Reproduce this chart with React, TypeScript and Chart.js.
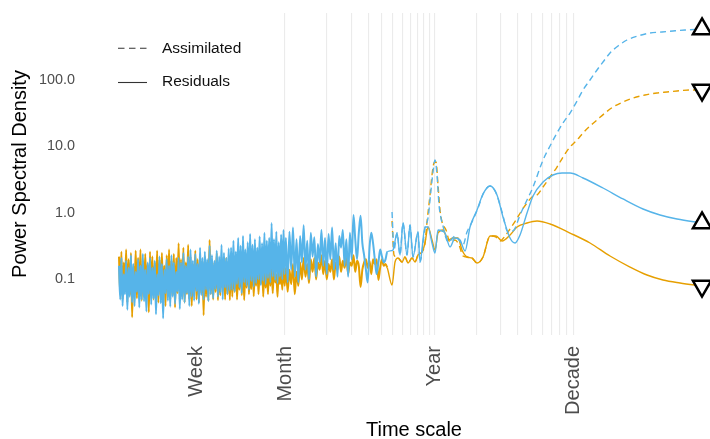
import React, { useEffect, useRef } from "react";
import { Chart, registerables } from "chart.js";

Chart.register(...registerables);

const FONT = "'Liberation Sans', Arial, Helvetica, sans-serif";
const BLUE = "#56B4E9";
const ORANGE = "#E69F00";

// ---- Data (periods in days, power spectral density values) ----
const noisyPeriods = [
  1.93, 1.969, 2.008, 2.048, 2.089, 2.131, 2.173, 2.217, 2.261, 2.307,
  2.353, 2.4, 2.448, 2.497, 2.547, 2.598, 2.65, 2.703, 2.757, 2.812,
  2.868, 2.925, 2.984, 3.043, 3.104, 3.166, 3.23, 3.295, 3.36, 3.427,
  3.496, 3.566, 3.637, 3.71, 3.784, 3.86, 3.937, 4.016, 4.096, 4.178,
  4.262, 4.347, 4.434, 4.522, 4.613, 4.705, 4.799, 4.895, 4.993, 5.093,
  5.195, 5.299, 5.405, 5.513, 5.623, 5.736, 5.851, 5.968, 6.087, 6.208,
  6.332, 6.459, 6.588, 6.72, 6.854, 6.991, 7.131, 7.274, 7.419, 7.568,
  7.719, 7.873, 8.031, 8.191, 8.355, 8.522, 8.693, 8.867, 9.044, 9.225,
  9.41, 9.598, 9.79, 9.985, 10.19, 10.39, 10.6, 10.81, 11.03, 11.25,
  11.47, 11.7, 11.94, 12.17, 12.42, 12.67, 12.92, 13.18, 13.44, 13.71,
  13.98, 14.26, 14.55, 14.84, 15.14, 15.44, 15.75, 16.06, 16.38, 16.71,
  17.04, 17.38, 17.73, 18.09, 18.45, 18.82, 19.2, 19.58, 19.97, 20.37,
  20.78, 21.19, 21.62, 22.05, 22.49, 22.94, 23.4, 23.87, 24.35, 24.83,
  25.33, 25.83, 26.35, 26.88, 27.42, 27.97, 28.53, 29.1, 29.68, 30.27,
  30.87,
  31.8, 32.75, 33.73, 34.74, 35.79, 36.86, 37.97, 39.11, 40.28, 41.49,
  42.73, 44.01, 45.34, 46.7, 48.1, 49.54, 51.03, 52.56, 54.13, 55.75,
  57.43, 59.15, 60.92, 62.75, 64.63, 66.57, 68.57, 70.63, 72.75, 74.93,
  77.18, 79.49, 81.88, 84.33, 86.86, 89.47, 92.15, 94.92, 97.77, 100.7,
  103.7, 106.8, 110.0, 113.3, 116.7, 120.2, 123.9, 127.6, 131.4, 135.3,
  139.4, 143.6, 147.9, 152.3, 156.9, 161.6, 166.4,
];

const blueResidualNoisy = [
  0.16, 0.05, 0.21, 0.04, 0.12, 0.06, 0.19, 0.035, 0.15, 0.055,
  0.23, 0.045, 0.17, 0.04, 0.13, 0.065, 0.2, 0.038, 0.16, 0.05,
  0.24, 0.047, 0.14, 0.033, 0.18, 0.06, 0.21, 0.042, 0.15, 0.052,
  0.19, 0.03, 0.12, 0.058, 0.22, 0.044, 0.17, 0.026, 0.14, 0.062,
  0.2, 0.048, 0.16, 0.039, 0.23, 0.055, 0.18, 0.043, 0.13, 0.066,
  0.21, 0.036,
  0.18, 0.05, 0.25, 0.045, 0.16, 0.062, 0.22, 0.04, 0.28, 0.055,
  0.19, 0.048, 0.24, 0.067, 0.17, 0.043, 0.3, 0.058, 0.21, 0.05,
  0.26, 0.07, 0.2, 0.047, 0.32, 0.06, 0.23, 0.052, 0.19, 0.072,
  0.27, 0.055, 0.22, 0.064, 0.33, 0.05, 0.25, 0.075, 0.21, 0.06,
  0.29, 0.068,
  0.3, 0.07, 0.38, 0.065, 0.26, 0.085, 0.42, 0.075, 0.32, 0.062,
  0.45, 0.09, 0.28, 0.08, 0.36, 0.07, 0.48, 0.095, 0.33, 0.078,
  0.4, 0.088, 0.3, 0.1, 0.44, 0.082, 0.35, 0.095, 0.5, 0.085,
  0.38, 0.105, 0.42, 0.09, 0.7, 0.11, 0.4, 0.098, 0.52, 0.088,
  0.36, 0.11, 0.47, 0.1, 0.55, 0.12, 0.42,
  0.09, 0.52, 0.14, 0.6, 0.11, 0.4, 0.09, 0.45, 0.18, 0.65,
  0.14, 0.38, 0.1, 0.5, 0.22, 0.43, 0.11, 0.34, 0.18, 0.55,
  0.16, 0.42, 0.12, 0.48, 0.2, 0.6, 0.14, 0.35, 0.11, 0.45,
  0.3, 0.55, 0.16, 0.4, 0.11, 0.5, 0.2, 0.93, 0.4, 0.2,
  0.5, 0.9, 0.35, 0.23, 0.14, 0.09, 0.3, 0.5, 0.35, 0.2,
  0.12, 0.18, 0.28, 0.22, 0.18, 0.2, 0.26,
];

const orangeResidualNoisy = [
  0.22, 0.06, 0.26, 0.05, 0.18, 0.07, 0.28, 0.045, 0.2, 0.058,
  0.25, 0.027, 0.16, 0.065, 0.27, 0.052, 0.21, 0.06, 0.28, 0.048,
  0.19, 0.055, 0.24, 0.068, 0.17, 0.032, 0.26, 0.057, 0.22, 0.05,
  0.18, 0.064, 0.27, 0.045, 0.2, 0.06, 0.25, 0.054, 0.16, 0.04,
  0.23, 0.066, 0.28, 0.05, 0.19, 0.058, 0.24, 0.038, 0.21, 0.062,
  0.35, 0.05,
  0.2, 0.055, 0.3, 0.045, 0.18, 0.06, 0.33, 0.05, 0.22, 0.04,
  0.17, 0.058, 0.27, 0.05, 0.2, 0.045, 0.24, 0.062, 0.19, 0.029,
  0.22, 0.055, 0.16, 0.048, 0.39, 0.06, 0.2, 0.05, 0.18, 0.065,
  0.25, 0.049, 0.15, 0.058, 0.22, 0.068, 0.17, 0.05, 0.21, 0.06,
  0.19, 0.049,
  0.23, 0.055, 0.16, 0.065, 0.21, 0.05, 0.14, 0.07, 0.19, 0.058,
  0.22, 0.049, 0.15, 0.075, 0.2, 0.06, 0.13, 0.072, 0.21, 0.056,
  0.16, 0.08, 0.18, 0.06, 0.14, 0.085, 0.2, 0.055, 0.16, 0.075,
  0.13, 0.06, 0.19, 0.08, 0.15, 0.062, 0.17, 0.09, 0.12, 0.055,
  0.16, 0.085, 0.14, 0.07, 0.18, 0.08, 0.15,
  0.065, 0.14, 0.085, 0.17, 0.06, 0.13, 0.08, 0.18, 0.1, 0.21,
  0.11, 0.17, 0.088, 0.2, 0.13, 0.21, 0.1, 0.18, 0.14, 0.23,
  0.12, 0.19, 0.1, 0.17, 0.13, 0.2, 0.1, 0.18, 0.14, 0.22,
  0.13, 0.19, 0.15, 0.21, 0.12, 0.18, 0.16, 0.23, 0.13, 0.19,
  0.16, 0.077, 0.14, 0.18, 0.2, 0.15, 0.19, 0.12, 0.2, 0.17,
  0.2, 0.098, 0.15, 0.2, 0.16, 0.17, 0.15,
];

const blueResidualSmoothPeriods = [
  183.0, 195.7, 205.7, 216.2, 231.0, 242.8, 255.2, 277.3, 286.7, 311.5,
  327.4, 349.9, 367.9, 386.6, 413.2, 434.3, 472.0, 512.9, 557.2, 605.5,
  658.0, 739.3, 816.6, 917.5, 1030, 1138, 1279, 1390, 1510, 1696,
  1874, 2213, 2612, 3034, 3465, 4300, 5995, 8359, 11650, 15460, 20500, 31060,
];
const blueResidualSmooth = [
  0.276, 0.497, 0.2325, 0.703, 0.2325, 0.656, 0.217, 0.515, 0.1825, 0.612,
  0.612, 0.352, 0.249, 0.552, 0.533, 0.497, 0.307, 0.418, 0.39, 0.267,
  0.612, 1.102, 1.915, 2.526, 1.85, 0.865, 0.418, 0.352, 0.464, 0.993,
  1.788, 2.9, 3.694, 3.959, 3.959, 3.331, 2.357, 1.612, 1.14, 0.927, 0.807, 0.703,
];

const orangeResidualSmoothPeriods = [
  180.1, 189.3, 199.0, 212.6, 223.5, 234.9, 251.0, 263.9, 277.3, 296.4,
  311.5, 327.4, 349.9, 367.9, 386.6, 420.1, 456.5, 496.0, 538.9, 576.0,
  625.8, 680.1, 739.3, 816.6, 917.5, 1014, 1120, 1279, 1437, 1696,
  2003, 2486, 3465, 4831, 6734, 9389, 12450, 16240, 21550, 31060,
];
const orangeResidualSmooth = [
  0.0824, 0.1825, 0.2096, 0.1825, 0.217, 0.176, 0.2096, 0.1825, 0.2325, 0.258,
  0.352, 0.612, 0.39, 0.276, 0.497, 0.552, 0.39, 0.418, 0.418, 0.276,
  0.217, 0.2096, 0.176, 0.217, 0.448, 0.448, 0.377, 0.464, 0.612, 0.703,
  0.753, 0.679, 0.497, 0.352, 0.2246, 0.1535, 0.1164, 0.098, 0.0883, 0.0796,
];

const blueAssimilatedPeriods = [
  180.1, 186.1, 195.7, 205.7, 216.2, 231.0, 242.8, 255.2, 277.3, 286.7,
  311.5, 327.4, 344.2, 355.8, 367.9, 380.3, 393.1, 406.4, 420.1, 441.6,
  456.5, 479.9, 512.9, 548.0, 585.7, 625.8, 680.1, 751.6, 830.3, 917.5,
  1014, 1120, 1237, 1366, 1510, 1696, 1874, 2213, 2486, 2792,
  3085, 3465, 3893, 4300, 4831, 5426, 5995, 6734, 7691, 8930,
  10720, 13090, 15970, 19180, 23410, 31060,
];
const blueAssimilated = [
  1.028, 0.276, 0.497, 0.2325, 0.703, 0.2325, 0.656, 0.217, 0.515, 0.1825,
  0.591, 0.835, 2.199, 4.099, 6.204, 3.694, 1.31, 0.835, 0.634, 0.418,
  0.364, 0.39, 0.448, 0.39, 0.329, 0.515, 0.728, 1.181, 2.053, 2.526,
  1.983, 1.028, 0.515, 0.552, 0.927, 1.556, 2.44, 6.204, 10.07, 15.79,
  22.3, 31.51, 47.72, 69.81, 98.6, 139.4, 183.8, 250.9, 319.6, 393.2,
  451.6, 500.9, 518.5, 536.7, 555.5, 575.3,
];

const orangeAssimilatedPeriods = [
  180.1, 186.1, 199.0, 212.6, 223.5, 234.9, 251.0, 263.9, 277.3, 296.4,
  311.5, 322.0, 338.5, 349.9, 361.7, 374.0, 386.6, 399.6, 413.2, 441.6,
  472.0, 512.9, 548.0, 585.7, 625.8, 680.1, 739.3, 816.6, 917.5, 1014,
  1083, 1177, 1279, 1413, 1561, 1696, 1843, 2003, 2213, 2486,
  2792, 3085, 3465, 3893, 4300, 4831, 5426, 6197, 7078, 8359,
  9867, 12040, 14700, 17360, 20500, 25440, 31060,
];
const orangeAssimilated = [
  0.753, 0.2325, 0.2096, 0.1825, 0.217, 0.176, 0.2096, 0.1825, 0.2325, 0.258,
  0.352, 0.728, 1.85, 3.694, 5.594, 5.791, 2.615, 1.102, 0.728, 0.552,
  0.364, 0.39, 0.329, 0.2246, 0.217, 0.2096, 0.176, 0.217, 0.448, 0.433,
  0.377, 0.448, 0.571, 0.78, 1.102, 1.403, 1.727, 1.85, 2.44, 3.447,
  4.871, 6.883, 9.727, 12.39, 15.79, 20.11, 24.74, 31.51, 38.79, 46.1,
  52.93, 58.73, 62.93, 65.14, 67.44, 69.81, 69.81,
];

// ---- Axis ticks ----
const xTickValues = [
  7, 30.4375, 60.875, 91.3125, 121.75, 152.1875, 182.625, 213.0625, 243.5,
  273.9375, 304.375, 334.8125, 365.25, 730.5, 1095.75, 1461, 1826.25,
  2191.5, 2556.75, 2922, 3287.25, 3652.5,
];
const xTickLabels = [
  "Week", "Month", "", "", "", "", "", "", "", "", "", "", "Year",
  "", "", "", "", "", "", "", "", "Decade",
];
const yTickValues = [0.1, 1, 10, 100];
const yTickLabels = ["0.1", "1.0", "10.0", "100.0"];
const legendLabels = ["Assimilated", "Residuals"];

const toPoints = (periods: number[], values: number[]) =>
  periods.map((p, i) => ({ x: p, y: values[i] }));

const legendPlugin = {
  id: "customLegend",
  afterDraw(chart: any) {
    const { ctx, chartArea } = chart;
    const left = chartArea.left;
    const items = [
      { label: legendLabels[0], dash: [6.5, 4.5], ly: 48.3, ty: 48.8 },
      { label: legendLabels[1], dash: [], ly: 82.5, ty: 81.8 },
    ];
    ctx.save();
    items.forEach((it) => {
      ctx.beginPath();
      ctx.setLineDash(it.dash);
      ctx.strokeStyle = "#333333";
      ctx.lineWidth = 1.1;
      ctx.moveTo(left, it.ly);
      ctx.lineTo(left + 29, it.ly);
      ctx.stroke();
      ctx.setLineDash([]);
      ctx.fillStyle = "#111111";
      ctx.font = `15.5px ${FONT}`;
      ctx.textBaseline = "middle";
      ctx.textAlign = "left";
      ctx.fillText(it.label, left + 44, it.ty);
    });
    ctx.restore();
  },
};

function endMarker(n: number) {
  return (c: any) => (c.dataIndex === n - 1 ? 10.5 : 0);
}

const NOISY_N = noisyPeriods.length;
const noisyWidth = (c: any) => (c.p1DataIndex < NOISY_N ? 2.0 : 1.4);

export default function App() {
  const canvasRef = useRef<HTMLCanvasElement | null>(null);

  useEffect(() => {
    if (!canvasRef.current) return;

    const blueRes = toPoints(noisyPeriods, blueResidualNoisy).concat(
      toPoints(blueResidualSmoothPeriods, blueResidualSmooth)
    );
    const orangeRes = toPoints(noisyPeriods, orangeResidualNoisy).concat(
      toPoints(orangeResidualSmoothPeriods, orangeResidualSmooth)
    );
    const blueAss = toPoints(blueAssimilatedPeriods, blueAssimilated);
    const orangeAss = toPoints(orangeAssimilatedPeriods, orangeAssimilated);

    const common = {
      cubicInterpolationMode: "monotone",
      pointStyle: "triangle",
      pointBorderColor: "#000000",
      pointBackgroundColor: "#ffffff",
      pointBorderWidth: 2.5,
      pointHoverRadius: 0,
      fill: false,
    };

    const chart = new Chart(canvasRef.current, {
      type: "line",
      data: {
        datasets: [
          {
            ...common,
            label: "blue assimilated",
            data: blueAss,
            borderColor: BLUE,
            borderWidth: 1.4,
            borderDash: [6, 4],
            pointRadius: endMarker(blueAss.length),
            rotation: 0,
            order: 0,
          },
          {
            ...common,
            label: "blue residuals",
            data: blueRes,
            borderColor: BLUE,
            borderWidth: 1.4,
            segment: { borderWidth: noisyWidth },
            pointRadius: endMarker(blueRes.length),
            rotation: 0,
            order: 1,
          },
          {
            ...common,
            label: "orange assimilated",
            data: orangeAss,
            borderColor: ORANGE,
            borderWidth: 1.4,
            borderDash: [6, 4],
            pointRadius: endMarker(orangeAss.length),
            rotation: 180,
            order: 2,
          },
          {
            ...common,
            label: "orange residuals",
            data: orangeRes,
            borderColor: ORANGE,
            borderWidth: 1.4,
            segment: { borderWidth: noisyWidth },
            pointRadius: endMarker(orangeRes.length),
            rotation: 180,
            order: 3,
          },
        ],
      } as any,
      options: {
        animation: false,
        responsive: true,
        maintainAspectRatio: false,
        events: [],
        layout: {
          autoPadding: false,
          padding: { top: 13, left: 0, right: 0, bottom: 0 },
        },
        plugins: {
          legend: { display: false },
          tooltip: { enabled: false },
        },
        scales: {
          x: {
            type: "logarithmic",
            min: 1.898,
            max: 35460,
            afterBuildTicks: (s: any) => {
              s.ticks = xTickValues.map((v) => ({ value: v }));
            },
            afterFit: (s: any) => {
              s.height = 104;
              s.paddingLeft = 0;
              s.paddingRight = 0;
            },
            ticks: {
              autoSkip: false,
              minRotation: 90,
              maxRotation: 90,
              padding: 11,
              color: "#4d4d4d",
              font: { family: FONT, size: 20 },
              callback: (_v: any, i: number) => xTickLabels[i],
            },
            grid: {
              color: (c: any) => (c.index === 0 ? "rgba(0,0,0,0)" : "#ebebeb"),
              lineWidth: 1.1,
              drawTicks: false,
            },
            border: { display: false },
            title: {
              display: true,
              text: "Time scale",
              color: "#000000",
              font: { family: FONT, size: 20, lineHeight: 0.84 },
              padding: 0,
            },
          },
          y: {
            type: "logarithmic",
            min: 0.01463,
            max: 1000,
            afterBuildTicks: (s: any) => {
              s.ticks = yTickValues.map((v) => ({ value: v }));
            },
            afterFit: (s: any) => {
              s.width = 118;
              s.paddingTop = 0;
              s.paddingBottom = 0;
            },
            ticks: {
              padding: 35,
              color: "#4d4d4d",
              font: { family: FONT, size: 14.4 },
              callback: (_v: any, i: number) => yTickLabels[i],
            },
            grid: { display: false },
            border: { display: false },
            title: {
              display: true,
              text: "Power Spectral Density",
              color: "#000000",
              font: { family: FONT, size: 20 },
              padding: { top: 8, bottom: 0 },
            },
          },
        },
      } as any,
      plugins: [legendPlugin],
    });

    return () => chart.destroy();
  }, []);

  return (
    <div
      style={{
        position: "fixed",
        left: 0,
        top: 0,
        width: 710,
        height: 439,
        background: "#ffffff",
      }}
    >
      <canvas ref={canvasRef} />
    </div>
  );
}
